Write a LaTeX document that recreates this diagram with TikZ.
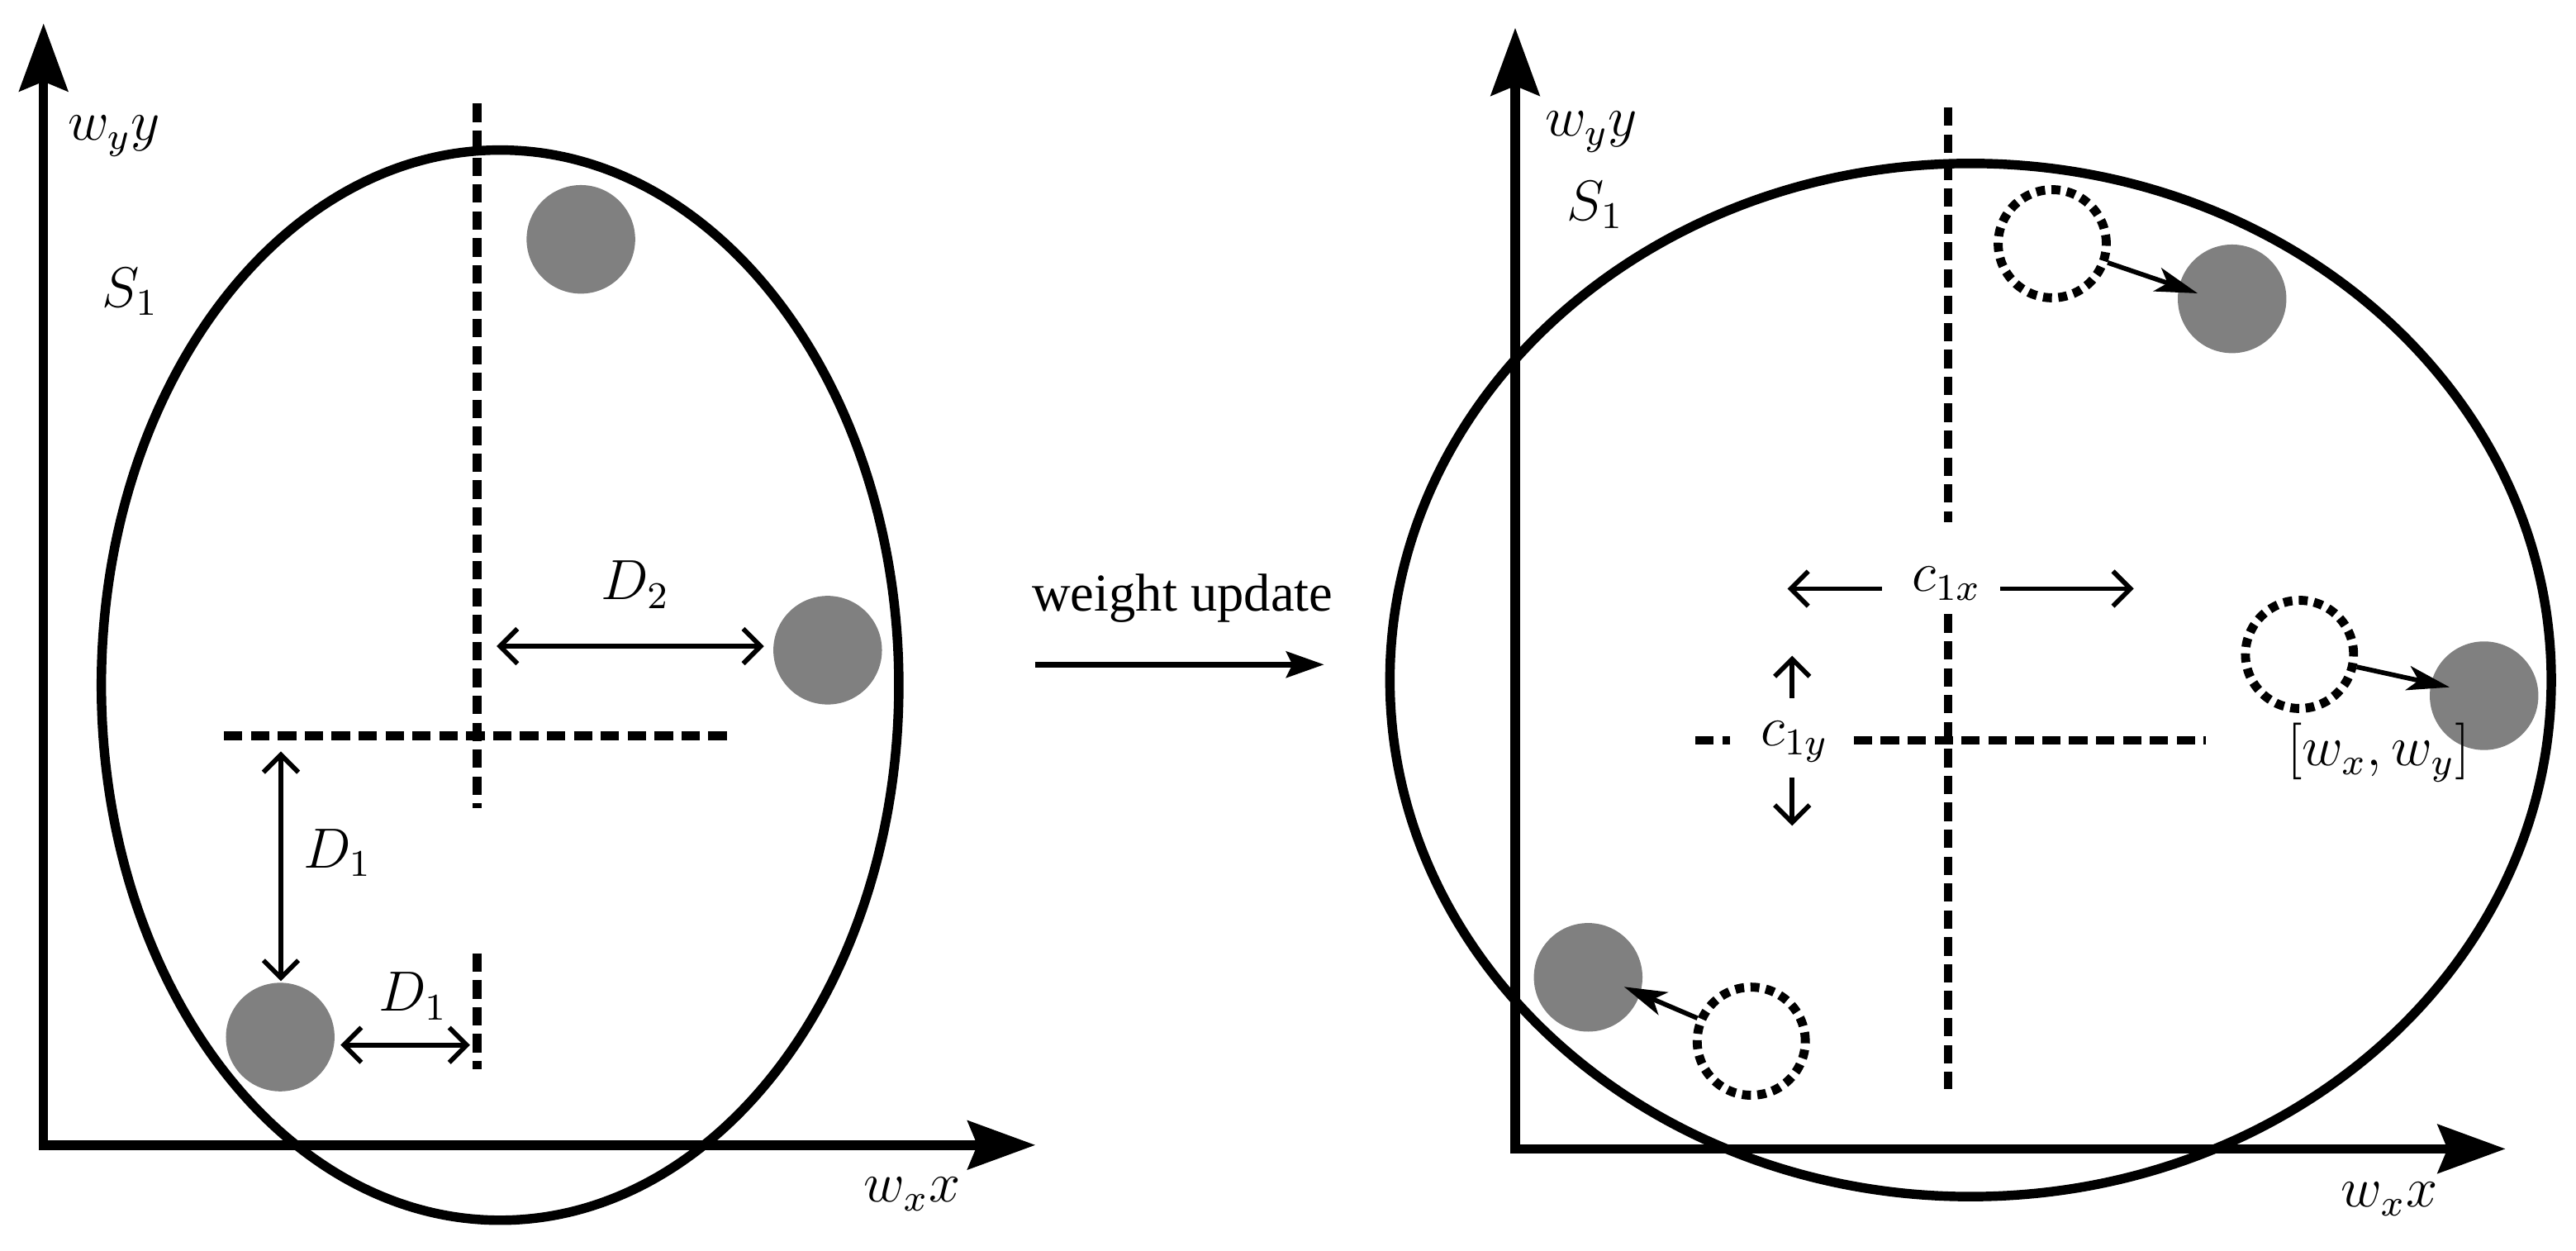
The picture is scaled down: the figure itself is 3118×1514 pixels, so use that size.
\documentclass[tikz,border=0pt]{standalone}
\usepackage{fontspec}
\newfontfamily\wufont{Liberation Serif}
\usetikzlibrary{arrows.meta}
\begin{document}
\begin{tikzpicture}[x=0.175pt,y=-0.175pt,
  axis/.style={line width=2pt,{Stealth[length=14.3pt,width=10.2pt,inset=2pt]}-{Stealth[length=14.3pt,width=10.2pt,inset=2pt]}},
  ell/.style={line width=2pt},
  dashln/.style={line width=1.9pt,dash pattern=on 3.9pt off 1.8pt},
  dotcirc/.style={circle,draw,line width=1.9pt,dash pattern=on 1.9pt off 1.35pt,minimum size=22.9pt,inner sep=0pt},
  graycirc/.style={circle,fill=gray,minimum size=23pt,inner sep=0pt},
  dimarrow/.style={line width=1pt,{Straight Barb[length=3.7pt,width=7.4pt]}-{Straight Barb[length=3.7pt,width=7.4pt]}},
  onearrow/.style={line width=1pt,-{Straight Barb[length=3.7pt,width=7.4pt]}},
  movearrow/.style={line width=1pt,-{Stealth[length=9pt,width=5.2pt,inset=2.3pt]}},
  wuarrow/.style={line width=1.3pt,-{Stealth[length=8pt,width=5.5pt,inset=1.3pt]}},
  lbl/.style={font=\fontsize{12}{14}\selectfont,inner sep=0pt,anchor=base}]
\useasboundingbox (0,0) rectangle (3118,1514);

% ---------------- left panel ----------------
\coordinate (ly) at (52.7,28.3);
\coordinate (lo) at (52.7,1385.8);
\coordinate (lx) at (1253.3,1385.8);
\draw[axis] (ly) -- (lo) -- (lx);
\draw[ell] (605.3,829.2) ellipse [x radius=84.46pt, y radius=113.33pt];

\draw[dashln] (577.1,125.5) -- (577.1,978.1);
\draw[dashln] (577.1,1153.7) -- (577.1,1293.7);
\draw[dashln] (271.2,890.3) -- (888.9,890.3);

\node[graycirc] (ga) at (703.1,289.7) {};
\node[graycirc] (gb) at (1001.8,786.9) {};
\node[graycirc] (gc) at (339.2,1255.1) {};

\coordinate (d2s) at (601.1,782.1);
\coordinate (d2e) at (924.7,782.1);
\draw[dimarrow] (d2s) -- (d2e);
\coordinate (d1s) at (340,909.5);
\coordinate (d1e) at (340,1187.5);
\draw[dimarrow] (d1s) -- (d1e);
\coordinate (d1hs) at (412.2,1264.7);
\coordinate (d1he) at (568.9,1264.7);
\draw[dimarrow] (d1hs) -- (d1he);

\node[lbl] (wy1) at (138,170) {$w_y y$};
\node[lbl] (s1a) at (157.5,371.7) {$S_1$};
\node[lbl] (wx1) at (1104,1455) {$w_x x$};
\node[lbl] (d2) at (769,726) {$D_2$};
\node[lbl] (d1a) at (408.5,1050.6) {$D_1$};
\node[lbl] (d1b) at (500,1224) {$D_1$};

% ---------------- middle ----------------
\node[font=\wufont\fontsize{11.3}{13}\selectfont,inner sep=0pt,anchor=base] (wu) at (1431.3,740) {weight update};
\coordinate (wus) at (1252.7,804.3);
\coordinate (wue) at (1602.7,804.3);
\draw[wuarrow] (wus) -- (wue);

% ---------------- right panel ----------------
\coordinate (ry) at (1834,33.6);
\coordinate (ro) at (1834,1390.4);
\coordinate (rx) at (3032.7,1390.4);
\draw[axis] (ry) -- (ro) -- (rx);
\draw[ell] (2385.2,823) ellipse [x radius=123.0pt, y radius=109.41pt];

\draw[dashln] (2357.9,130.2) -- (2357.9,632.3);
\draw[dashln] (2357.9,743.5) -- (2357.9,1318);
\draw[dashln] (2052.1,896) -- (2093.7,896);
\draw[dashln] (2243.8,896) -- (2669.8,896);

\node[dotcirc] (dta) at (2484,295) {};
\node[graycirc] (gra) at (2701.7,361.7) {};
\node[dotcirc] (dtb) at (2783.3,792) {};
\node[graycirc] (grb) at (3006.7,842) {};
\node[dotcirc] (dtc) at (2119.7,1260.1) {};
\node[graycirc] (grc) at (1922.3,1182.8) {};

\coordinate (ta) at (2660,355);
\coordinate (tb) at (2965,831.7);
\coordinate (tc) at (1965.8,1194.3);
\draw[movearrow] (dta) -- (ta);
\draw[movearrow] (dtb) -- (tb);
\draw[movearrow] (dtc) -- (tc);

\coordinate (cxl0) at (2277.6,712.5);
\coordinate (cxl1) at (2163.5,712.5);
\coordinate (cxr0) at (2421,712.5);
\coordinate (cxr1) at (2582.7,712.5);
\draw[onearrow] (cxl0) -- (cxl1);
\draw[onearrow] (cxr0) -- (cxr1);
\coordinate (cyu0) at (2169.2,845);
\coordinate (cyu1) at (2169.2,793.6);
\coordinate (cyd0) at (2169.2,941.4);
\coordinate (cyd1) at (2169.2,999.4);
\draw[onearrow] (cyu0) -- (cyu1);
\draw[onearrow] (cyd0) -- (cyd1);

\node[lbl] (wy2) at (1926,165) {$w_y y$};
\node[lbl] (s1b) at (1931,266.7) {$S_1$};
\node[lbl] (wx2) at (2892,1461) {$w_x x$};
\node[lbl] (c1x) at (2356,716) {$c_{1x}$};
\node[lbl] (c1y) at (2172,903) {$c_{1y}$};
\node[lbl] (wxy) at (2879,927) {$[w_x, w_y]$};
\end{tikzpicture}
\end{document}
